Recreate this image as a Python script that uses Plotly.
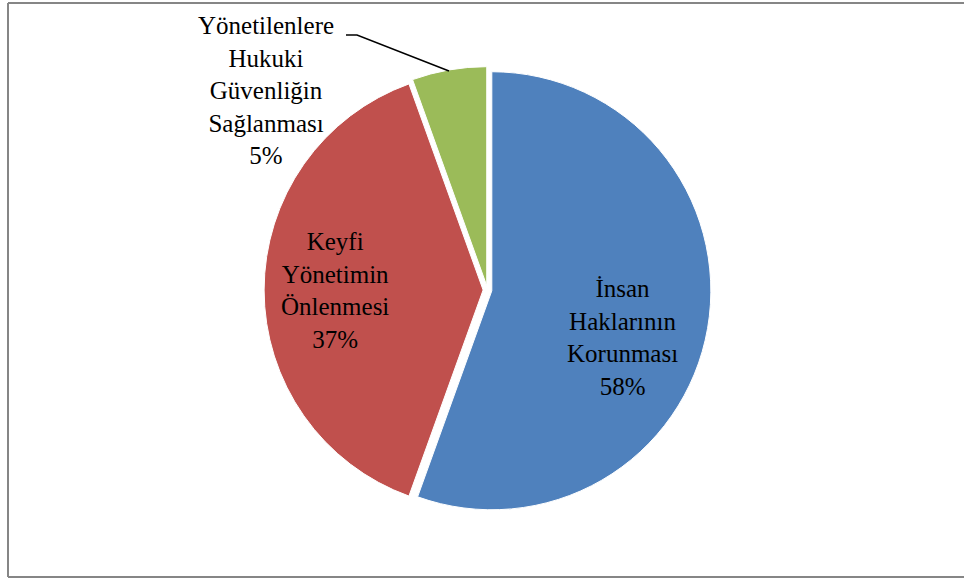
import plotly.graph_objects as go

# ---- data ----
categories = [
    "İnsan Haklarının Korunması",
    "Keyfi Yönetimin Önlenmesi",
    "Yönetilenlere Hukuki Güvenliğin Sağlanması",
]
printed_percents = [58, 37, 5]          # percentages printed on the chart
slice_shares = [55.5, 39.0, 5.5]        # angular share of each slice as drawn
slice_colors = ["#4F81BD", "#C0504D", "#9BBB59"]

W, H = 964, 579

def px(x):
    return x / W

def py(y):
    return 1 - y / H

fig = go.Figure()
fig.add_trace(go.Pie(
    labels=categories,
    values=slice_shares,
    sort=False,
    direction="clockwise",
    rotation=0,
    pull=[0.02, 0.02, 0.02],
    marker=dict(colors=slice_colors, line=dict(color="white", width=1)),
    textinfo="none",
    hoverinfo="label+percent",
    showlegend=False,
    domain=dict(x=[px(487.5 - 223.4), px(487.5 + 223.4)],
                y=[py(290 + 223.4), py(290 - 223.4)]),
))

label_centers = [(622, 337), (335, 290), (266, 91)]
annotations = []
for cat, pct, (cx, cy) in zip(categories, printed_percents, label_centers):
    text = "<br>".join(cat.split(" ")) + f"<br>{pct}%"
    annotations.append(dict(
        x=px(cx), y=py(cy), xref="paper", yref="paper",
        text=text, showarrow=False, xanchor="center", yanchor="middle",
        align="center",
        font=dict(family="Liberation Serif, Times New Roman, serif", size=25, color="black"),
    ))

shapes = [
    # leader line for the small slice label
    dict(type="path", xref="paper", yref="paper",
         path=f"M {px(346)},{py(35)} L {px(357)},{py(35)} L {px(449)},{py(71)}",
         line=dict(color="black", width=1.5)),
    # chart frame (left, top, bottom)
    dict(type="line", xref="paper", yref="paper", x0=px(8), x1=px(8), y0=py(3), y1=py(577),
         line=dict(color="#868686", width=2)),
    dict(type="line", xref="paper", yref="paper", x0=px(8), x1=1.01, y0=py(3), y1=py(3),
         line=dict(color="#868686", width=2)),
    dict(type="line", xref="paper", yref="paper", x0=px(8), x1=1.01, y0=py(577), y1=py(577),
         line=dict(color="#868686", width=2)),
]

fig.update_layout(
    width=W, height=H,
    margin=dict(l=0, r=0, t=0, b=0),
    paper_bgcolor="white",
    plot_bgcolor="white",
    annotations=annotations,
    shapes=shapes,
)

fig.write_html(
    "out.html",
    config={"displayModeBar": False},
    post_script="document.body.style.margin='0';document.body.style.overflow='hidden';",
)
